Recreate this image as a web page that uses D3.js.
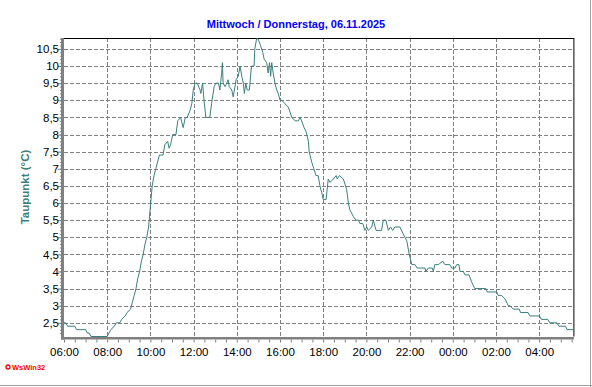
<!DOCTYPE html>
<html>
<head>
<meta charset="utf-8">
<script src="https://cdn.jsdelivr.net/npm/d3@7"></script>
<style>
body { margin: 0; background: #fff; }
text { font-family: "Liberation Sans", Arial, sans-serif; }
</style>
</head>
<body>
<div id="chart"></div>
<script>
var title = 'Mittwoch / Donnerstag, 06.11.2025';
var yLabel = 'Taupunkt (°C)';
var footer = 'WsWin32';

// dew point readings, 05.11 06:00 .. 06.11 05:35
var times = [
  '06:00','06:05','06:10','06:30','06:35','07:00','07:05','07:10','07:15','08:00',
  '08:10','08:20','08:25','08:35','08:40','08:50','08:55','09:05','09:10','09:15',
  '09:20','09:25','09:30','09:35','09:40','09:45','09:50','09:55','10:00','10:05',
  '10:10','10:15','10:20','10:25','10:35','10:40','10:48','10:52','10:56','11:02',
  '11:11','11:16','11:24','11:31','11:37','11:42','11:50','11:55','11:59','12:04',
  '12:10','12:18','12:20','12:25','12:29','12:34','12:41','12:45','12:50','12:57',
  '13:02','13:09','13:13','13:18','13:20','13:22','13:27','13:32','13:36','13:39',
  '13:46','13:50','13:55','13:58','14:04','14:09','14:14','14:18','14:21','14:25',
  '14:29','14:35','14:39','14:41','14:48','14:50','14:55','14:59','15:06','15:12',
  '15:16','15:23','15:27','15:31','15:34','15:37','15:41','15:46','15:51','15:55',
  '16:00','16:05','16:14','16:23','16:33','16:42','16:51','16:56','17:00','17:07',
  '17:12','17:19','17:21','17:28','17:34','17:40','17:46','17:51','17:56','18:00',
  '18:08','18:14','18:19','18:28','18:36','18:39','18:45','18:56','19:05','19:10',
  '19:14','19:24','19:31','19:38','19:42','19:50','19:56','20:01','20:05','20:15',
  '20:19','20:27','20:42','20:47','20:54','21:01','21:07','21:13','21:19','21:33',
  '21:42','21:52','21:59','22:06','22:15','22:21','22:43','22:45','22:52','23:03',
  '23:06','23:10','23:20','23:32','23:38','23:52','23:57','00:06','00:11','00:17',
  '00:20','00:29','00:34','00:45','00:52','01:01','01:32','01:36','02:02','02:06',
  '02:15','02:25','02:34','02:39','02:48','03:05','03:08','03:29','03:34','04:01',
  '04:06','04:24','04:29','04:49','04:55','05:13','05:17','05:35'
];
var dewpoint = [
  2.5, 2.5, 2.4, 2.4, 2.3, 2.3, 2.2, 2.2, 2.1, 2.1,
  2.3, 2.4, 2.5, 2.5, 2.6, 2.7, 2.8, 2.9, 3.1, 3.3,
  3.5, 3.8, 4.0, 4.3, 4.5, 4.8, 5.0, 5.3, 5.9, 6.5,
  6.8, 7.0, 7.2, 7.4, 7.4, 7.7, 7.8, 7.6, 7.7, 8.0,
  8.0, 8.4, 8.5, 8.2, 8.5, 8.5, 8.7, 8.9, 9.3, 9.5,
  9.5, 9.3, 9.2, 9.5, 9.0, 8.5, 8.5, 8.5, 8.9, 9.4,
  9.5, 9.5, 9.3, 9.8, 10.1, 9.5, 9.4, 9.5, 9.6, 9.4,
  9.3, 9.1, 9.4, 9.6, 9.7, 10.0, 9.7, 9.5, 9.2, 9.5,
  9.3, 9.3, 9.8, 10.0, 10.0, 10.5, 10.8, 10.8, 10.6, 10.4,
  10.2, 10.1, 9.8, 10.1, 9.7, 10.1, 9.8, 9.5, 9.3, 9.2,
  9.0, 9.0, 8.9, 8.8, 8.5, 8.4, 8.4, 8.5, 8.4, 8.2,
  8.1, 7.8, 7.5, 7.2, 7.0, 6.8, 6.8, 6.5, 6.3, 6.1,
  6.1, 6.7, 6.6, 6.7, 6.8, 6.7, 6.8, 6.7, 6.4, 6.0,
  5.8, 5.6, 5.5, 5.5, 5.4, 5.4, 5.2, 5.3, 5.2, 5.3,
  5.5, 5.2, 5.2, 5.5, 5.5, 5.2, 5.3, 5.2, 5.3, 5.3,
  5.1, 4.9, 4.5, 4.2, 4.2, 4.1, 4.1, 4.0, 4.1, 4.1,
  4.0, 4.2, 4.2, 4.3, 4.2, 4.2, 4.1, 4.1, 4.2, 4.2,
  4.0, 4.0, 3.9, 3.9, 3.7, 3.5, 3.5, 3.4, 3.4, 3.3,
  3.3, 3.2, 3.0, 3.0, 2.9, 2.9, 2.8, 2.8, 2.7, 2.7,
  2.6, 2.6, 2.5, 2.5, 2.4, 2.4, 2.3, 2.3
];
var yTicks = [2.5, 3, 3.5, 4, 4.5, 5, 5.5, 6, 6.5, 7, 7.5, 8, 8.5, 9, 9.5, 10, 10.5];
var xTicks = ['06:00','08:00','10:00','12:00','14:00','16:00','18:00','20:00','22:00','00:00','02:00','04:00'];

var W = 592, H = 387;
var margin = {top: 38, right: 18.6, bottom: 50.5, left: 64},
    width = W - margin.left - margin.right,
    height = H - margin.top - margin.bottom;

// times before 06:00 belong to the next day
var parse = d3.timeParse('%Y-%m-%d %H:%M');
function toDate(hm) {
  var day = +hm.slice(0, 2) < 6 ? '2025-11-06' : '2025-11-05';
  return parse(day + ' ' + hm);
}
var data = times.map(function(t, i) { return {t: toDate(t), v: dewpoint[i]}; });

var svg = d3.select('#chart').append('svg')
  .attr('width', W).attr('height', H);

svg.append('rect').attr('width', W).attr('height', H).attr('fill', '#fff');
// outer frame, right and bottom
svg.append('line').attr('x1', W - 1.5).attr('x2', W - 1.5).attr('y1', 0).attr('y2', H)
  .attr('stroke', '#a0a0a0');
svg.append('line').attr('x1', 0).attr('x2', W).attr('y1', H - 1.5).attr('y2', H - 1.5)
  .attr('stroke', '#a0a0a0');

var g = svg.append('g')
  .attr('transform', 'translate(' + margin.left + ',' + margin.top + ')');

var x = d3.scaleTime()
  .domain([toDate('06:00'), toDate('05:35')])
  .range([0, width]);
var y = d3.scaleLinear()
  .domain([2.1, 10.82])
  .range([height, 0]);

// grid
g.append('g').selectAll('line').data(yTicks).enter().append('line')
  .attr('x1', 0).attr('x2', width)
  .attr('y1', function(d) { return Math.round(y(d)) + 0.5; })
  .attr('y2', function(d) { return Math.round(y(d)) + 0.5; })
  .attr('stroke', '#808080').attr('stroke-dasharray', '4,2');
g.append('g').selectAll('line').data(xTicks.slice(1)).enter().append('line')
  .attr('x1', function(d) { return Math.round(x(toDate(d))) + 0.5; })
  .attr('x2', function(d) { return Math.round(x(toDate(d))) + 0.5; })
  .attr('y1', 0).attr('y2', height)
  .attr('stroke', '#808080').attr('stroke-dasharray', '4,2');

// top and right border
g.append('line').attr('x1', 0).attr('x2', width + 0.5).attr('y1', 0.5).attr('y2', 0.5)
  .attr('stroke', '#000');
g.append('line').attr('x1', width + 0.5).attr('x2', width + 0.5).attr('y1', 0).attr('y2', height)
  .attr('stroke', '#000');

// y axis
var comma = function(d) { return String(d).replace('.', ','); };
var yAxis = g.append('g').attr('transform', 'translate(-2,0)')
  .call(d3.axisLeft(y).tickValues(yTicks).tickFormat(comma).tickSize(4).tickSizeOuter(0));
yAxis.select('.domain').remove();
yAxis.selectAll('line').attr('stroke', '#808080');
yAxis.selectAll('text').attr('font-size', '11.5px').attr('fill', '#000').attr('x', -3);
var yMinor = g.append('g').attr('transform', 'translate(-2,0)')
  .call(d3.axisLeft(y).tickValues(d3.range(22, 109).map(function(i) { return i / 10; }))
    .tickFormat('').tickSize(2).tickSizeOuter(0));
yMinor.select('.domain').remove();
yMinor.selectAll('line').attr('stroke', '#808080');
g.append('rect').attr('x', -3).attr('y', 0).attr('width', 3).attr('height', height + 3)
  .attr('fill', '#808080');

// x axis
var xAxis = g.append('g').attr('transform', 'translate(0,' + (height + 3) + ')')
  .call(d3.axisBottom(x).ticks(d3.timeMinute.every(30)).tickFormat('').tickSize(3).tickSizeOuter(0));
xAxis.select('.domain').remove();
xAxis.selectAll('line').attr('stroke', '#808080');
var xLab = g.append('g').attr('transform', 'translate(0,' + (height + 2) + ')')
  .call(d3.axisBottom(x).tickValues(xTicks.map(toDate)).tickFormat(d3.timeFormat('%H:%M'))
    .tickSize(0).tickPadding(9).tickSizeOuter(0));
xLab.select('.domain').remove();
xLab.selectAll('text').attr('font-size', '11.5px').attr('fill', '#000');
g.append('rect').attr('x', -3).attr('y', height + 0.5).attr('width', width + 3.5).attr('height', 2.5)
  .attr('fill', '#808080');

// dew point line
g.append('path').datum(data)
  .attr('fill', 'none')
  .attr('stroke', '#3b807c')
  .attr('stroke-width', 1)
  .attr('d', d3.line()
    .x(function(d) { return x(d.t); })
    .y(function(d) { return y(d.v); }));

// title
svg.append('text').attr('x', 296).attr('y', 28)
  .attr('text-anchor', 'middle')
  .attr('font-size', '11px').attr('font-weight', 'bold')
  .attr('fill', '#0000ff')
  .text(title);

// y label
svg.append('text')
  .attr('transform', 'translate(29,187) rotate(-90)')
  .attr('text-anchor', 'middle')
  .attr('font-size', '11.5px').attr('font-weight', 'bold')
  .attr('fill', '#3b807c')
  .text(yLabel);

// footer
svg.append('circle').attr('cx', 8).attr('cy', 367).attr('r', 2)
  .attr('fill', 'none').attr('stroke', '#ff0000').attr('stroke-width', 1.3);
svg.append('text').attr('x', 12).attr('y', 370)
  .attr('font-size', '7.5px').attr('font-weight', 'bold')
  .attr('fill', '#ff0000')
  .text(footer);
</script>
</body>
</html>
